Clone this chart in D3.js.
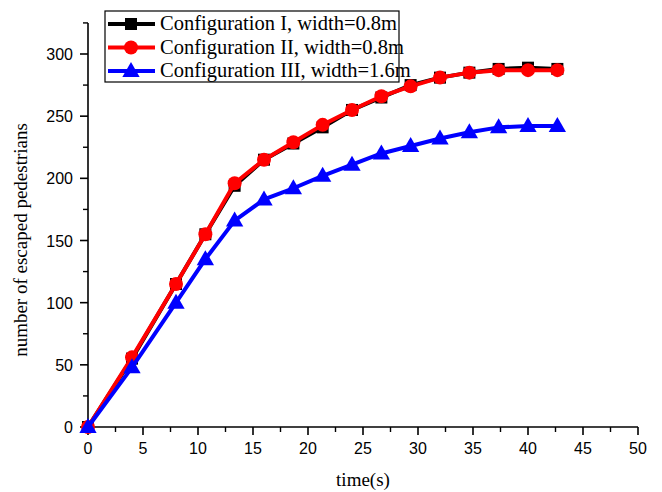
<!DOCTYPE html>
<html>
<head>
<meta charset="utf-8">
<script src="https://cdn.jsdelivr.net/npm/d3@7"></script>
<style>
  body { margin: 0; background: #fff; }
  svg { display: block; }
</style>
</head>
<body>
<div id="chart"></div>
<script>
// time points (s)
const times = [0, 4, 8, 10.67, 13.33, 16, 18.67, 21.33, 24, 26.67, 29.33, 32, 34.67, 37.33, 40, 42.67];
// escaped pedestrians
const configI   = [0, 55, 115, 155, 194, 215, 228, 241, 255, 265, 275, 281, 285, 288, 289, 288];
const configII  = [0, 56, 115, 155, 196, 215, 229, 243, 255, 266, 274, 281, 285, 287, 287, 287];
const configIII = [0, 48, 100, 135, 166, 183, 192, 202, 211, 220, 226, 232, 237, 241, 242, 242];

const seriesNames = ["Configuration I, width=0.8m", "Configuration II, width=0.8m", "Configuration III, width=1.6m"];
const xTicks = [0, 5, 10, 15, 20, 25, 30, 35, 40, 45, 50];
const yTicks = [0, 50, 100, 150, 200, 250, 300];

let width = 662, height = 492;
let margin = {left: 88, right: 24, top: 23, bottom: 65};

const svg = d3.select("#chart").append("svg")
  .attr("width", width)
  .attr("height", height);

const x = d3.scaleLinear().domain([0, 50]).range([margin.left, width - margin.right]);
const y = d3.scaleLinear().domain([0, 300]).range([427, 54]);

// axes
const xAxis = svg.append("g").attr("transform", `translate(0,${y(0)})`);
xAxis.append("line")
  .attr("x1", x(0)).attr("x2", x(50))
  .attr("stroke", "#000").attr("stroke-width", 1.6);
xAxis.selectAll(".minor").data(d3.range(2.5, 50, 5)).enter().append("line")
  .attr("x1", d => x(d)).attr("x2", d => x(d))
  .attr("y1", 0).attr("y2", 5)
  .attr("stroke", "#000").attr("stroke-width", 1.4);
xAxis.selectAll(".major").data(xTicks).enter().append("line")
  .attr("x1", d => x(d)).attr("x2", d => x(d))
  .attr("y1", 0).attr("y2", 8)
  .attr("stroke", "#000").attr("stroke-width", 1.6);
xAxis.selectAll("text").data(xTicks).enter().append("text")
  .attr("x", d => x(d)).attr("y", 27)
  .attr("text-anchor", "middle")
  .attr("font-family", "Liberation Sans, Arial, sans-serif")
  .attr("font-size", 16)
  .text(d => d);

const yAxis = svg.append("g").attr("transform", `translate(${x(0)},0)`);
yAxis.append("line")
  .attr("y1", y(0)).attr("y2", y(325))
  .attr("stroke", "#000").attr("stroke-width", 1.6);
yAxis.selectAll(".minor").data(d3.range(25, 326, 50)).enter().append("line")
  .attr("y1", d => y(d)).attr("y2", d => y(d))
  .attr("x1", 0).attr("x2", -5)
  .attr("stroke", "#000").attr("stroke-width", 1.4);
yAxis.selectAll(".major").data(yTicks).enter().append("line")
  .attr("y1", d => y(d)).attr("y2", d => y(d))
  .attr("x1", 0).attr("x2", -8)
  .attr("stroke", "#000").attr("stroke-width", 1.6);
yAxis.selectAll("text").data(yTicks).enter().append("text")
  .attr("x", -15).attr("y", d => y(d) + 6)
  .attr("text-anchor", "end")
  .attr("font-family", "Liberation Sans, Arial, sans-serif")
  .attr("font-size", 16)
  .text(d => d);

// axis titles
svg.append("text")
  .attr("x", (x(0) + x(50)) / 2).attr("y", 486)
  .attr("text-anchor", "middle")
  .attr("font-family", "Liberation Serif, Times New Roman, serif")
  .attr("font-size", 19)
  .text("time(s)");
svg.append("text")
  .attr("transform", `translate(27,240) rotate(-90)`)
  .attr("text-anchor", "middle")
  .attr("font-family", "Liberation Serif, Times New Roman, serif")
  .attr("font-size", 19)
  .text("number of escaped pedestrians");

// series
const series = [
  {name: seriesNames[0], values: configI, color: "#000000", shape: "square"},
  {name: seriesNames[1], values: configII, color: "#ff0000", shape: "circle"},
  {name: seriesNames[2], values: configIII, color: "#0000ff", shape: "triangle"}
];

const line = d3.line().x(d => x(d[0])).y(d => y(d[1]));

function drawMarker(g, shape, color, cx, cy) {
  if (shape === "square") {
    g.append("rect").attr("x", cx - 6).attr("y", cy - 6)
      .attr("width", 12).attr("height", 12).attr("fill", color);
  } else if (shape === "circle") {
    g.append("circle").attr("cx", cx).attr("cy", cy).attr("r", 7).attr("fill", color);
  } else {
    g.append("path")
      .attr("d", d3.symbol(d3.symbolTriangle, 130)())
      .attr("transform", `translate(${cx},${cy + 1})`)
      .attr("fill", color);
  }
}

series.forEach(s => {
  const pts = times.map((t, i) => [t, s.values[i]]);
  const g = svg.append("g");
  g.append("path")
    .attr("d", line(pts))
    .attr("fill", "none")
    .attr("stroke", s.color)
    .attr("stroke-width", 4)
    .attr("stroke-linejoin", "round");
  pts.forEach(p => drawMarker(g, s.shape, s.color, x(p[0]), y(p[1])));
});

// legend
const legend = svg.append("g");
legend.append("rect")
  .attr("x", 105).attr("y", 11)
  .attr("width", 294).attr("height", 71)
  .attr("fill", "#fff").attr("stroke", "#000").attr("stroke-width", 1.2);
series.forEach((s, i) => {
  const ly = 24 + i * 23.5;
  legend.append("line")
    .attr("x1", 108).attr("x2", 155)
    .attr("y1", ly).attr("y2", ly)
    .attr("stroke", s.color).attr("stroke-width", 4);
  drawMarker(legend, s.shape, s.color, 131, ly);
  legend.append("text")
    .attr("x", 160).attr("y", ly + 6)
    .attr("font-family", "Liberation Serif, Times New Roman, serif")
    .attr("font-size", 20.5)
    .text(s.name);
});
</script>
</body>
</html>
